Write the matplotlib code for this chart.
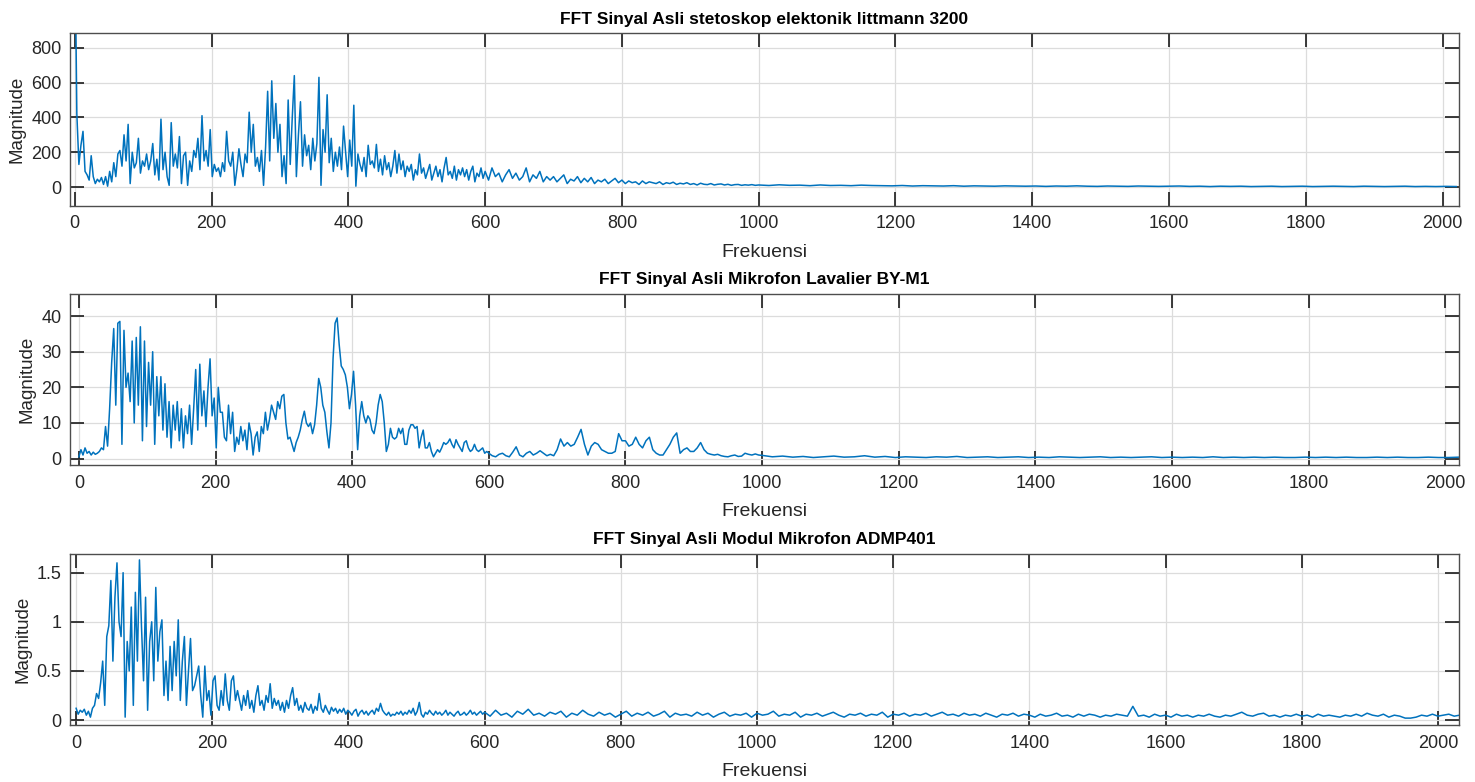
import numpy as np
import matplotlib
matplotlib.use("Agg")
import matplotlib.pyplot as plt

plt.rcParams['font.family'] = ['Liberation Sans', 'DejaVu Sans']

# ---- data (magnitudes) ----
titles = ['FFT Sinyal Asli stetoskop elektonik littmann 3200',
          'FFT Sinyal Asli Mikrofon Lavalier BY-M1',
          'FFT Sinyal Asli Modul Mikrofon ADMP401']

# stetoskop: 0-597 Hz every 3 Hz, 600-995 every 5 Hz, 1000+ every 15 Hz
mag1_lo = [1500, 420, 130, 240, 320, 90, 70, 40, 180, 60,
           20, 45, 30, 55, 15, 60, 5, 90, 30, 140,
           60, 190, 210, 120, 300, 150, 360, 20, 200, 110,
           140, 280, 80, 150, 120, 190, 100, 150, 250, 70,
           160, 40, 390, 100, 200, 60, 10, 370, 120, 190,
           110, 290, 20, 180, 200, 10, 150, 90, 210, 170,
           280, 100, 410, 150, 210, 120, 330, 60, 130, 90,
           110, 60, 140, 90, 320, 150, 120, 200, 10, 100,
           220, 130, 60, 190, 140, 430, 200, 360, 120, 170,
           90, 210, 10, 230, 550, 150, 610, 280, 480, 200,
           360, 60, 180, 20, 500, 130, 400, 640, 60, 300,
           490, 120, 300, 180, 240, 100, 280, 150, 250, 630,
           10, 330, 200, 530, 140, 280, 90, 200, 120, 230,
           100, 350, 200, 60, 270, 120, 470, 5, 190, 130,
           90, 170, 60, 240, 130, 150, 110, 245, 90, 160,
           70, 180, 100, 140, 60, 120, 210, 80, 190, 100,
           150, 60, 120, 90, 130, 40, 100, 70, 190, 80,
           110, 50, 90, 130, 40, 80, 120, 60, 100, 30,
           110, 170, 70, 90, 50, 120, 40, 100, 70, 110,
           60, 100, 40, 90, 120, 30, 80, 60, 110, 50]
mag1_mid = [90, 40, 110, 60, 80, 30, 70, 100, 50, 80,
            40, 60, 110, 30, 70, 50, 90, 30, 60, 40,
            60, 30, 50, 70, 20, 45, 35, 60, 25, 50,
            30, 55, 20, 40, 30, 45, 20, 35, 50, 25,
            40, 20, 35, 25, 30, 15, 35, 20, 30, 25,
            20, 30, 15, 25, 20, 28, 15, 22, 18, 25,
            15, 20, 12, 22, 16, 14, 20, 12, 16, 18,
            12, 16, 10, 14, 15, 10, 13, 11, 14, 10]
mag1_hi = [12, 9, 13, 10, 11, 8, 12, 9, 10, 8, 11, 9, 8, 7,
           9, 6, 8, 7, 6, 8, 5, 7, 6, 5, 7, 6, 5, 6, 4, 6,
           5, 7, 5, 4, 6, 5, 4, 6, 5, 4, 5, 6, 4, 5, 3, 5,
           4, 5, 3, 4, 5, 3, 4, 5, 3, 4, 5, 4, 3, 5, 4, 3,
           4, 5, 3, 4, 3, 4, 3]

# lavalier
mag2_lo = [0.5, 2.5, 1.0, 3.0, 1.5, 2.0, 1.0, 1.8, 1.2, 1.5,
           2.0, 3.0, 2.5, 9.0, 3.5, 14.0, 27.0, 36.5, 15.0, 38.0,
           38.5, 4.0, 36.0, 20.0, 24.0, 16.0, 33.0, 10.0, 34.0, 15.0,
           37.0, 5.0, 33.0, 9.0, 27.0, 15.0, 30.0, 4.0, 23.0, 12.0,
           23.0, 8.0, 21.0, 6.0, 16.0, 3.0, 15.0, 8.0, 16.0, 5.0,
           14.0, 3.0, 12.0, 7.0, 15.0, 4.0, 14.0, 25.0, 8.0, 26.5,
           12.0, 19.0, 9.0, 20.0, 28.0, 12.0, 17.0, 3.0, 20.0, 13.0,
           13.0, 6.0, 5.0, 15.0, 7.0, 13.0, 2.0, 6.0, 4.0, 9.0,
           5.0, 8.0, 2.5, 10.0, 7.0, 1.0, 6.0, 7.5, 2.0, 9.0,
           7.0, 13.0, 8.0, 11.0, 15.0, 13.0, 11.0, 16.0, 14.0, 17.5,
           18.0, 10.0, 5.5, 6.0, 4.0, 2.0, 4.5, 6.0, 8.0, 11.0,
           13.3, 10.0, 9.0, 10.0, 7.0, 9.5, 15.0, 22.5, 20.0, 15.0,
           13.0, 7.5, 3.0, 10.0, 28.0, 38.0, 39.5, 32.0, 26.0, 25.0,
           23.5, 20.0, 14.0, 18.0, 24.5, 15.0, 2.5, 12.0, 16.0, 12.0,
           10.0, 12.0, 11.0, 8.0, 7.0, 10.0, 15.0, 18.0, 16.0, 10.0,
           2.0, 4.0, 8.5, 6.0, 5.5, 6.0, 8.5, 7.0, 8.5, 4.0,
           4.0, 8.0, 9.5, 9.5, 8.5, 9.0, 3.0, 6.0, 8.0, 3.0,
           3.0, 4.5, 2.0, 0.5, 1.5, 2.5, 1.8, 3.0, 4.5, 4.0,
           4.5, 5.5, 4.0, 3.0, 5.3, 4.0, 3.0, 2.0, 4.5, 5.0,
           3.0, 2.0, 2.5, 4.0, 2.5, 2.0, 2.5, 3.0, 1.5, 2.0]
mag2_mid = [1.5, 0.8, 0.5, 1.2, 1.5, 0.8, 0.5, 1.8, 3.3, 1.0,
            0.5, 1.5, 2.0, 1.0, 1.5, 2.2, 1.5, 0.8, 1.2, 0.8,
            2.5, 5.5, 3.5, 4.5, 3.5, 4.0, 6.0, 8.2, 4.0, 1.0,
            3.5, 4.5, 4.0, 2.5, 2.0, 1.5, 1.5, 2.0, 7.0, 5.0,
            5.0, 3.5, 4.0, 6.0, 4.0, 3.0, 5.0, 6.0, 2.5, 1.5,
            1.0, 1.0, 2.5, 4.0, 6.0, 7.2, 1.5, 2.5, 3.0, 2.0,
            2.0, 3.0, 4.5, 2.5, 1.5, 1.2, 1.0, 1.2, 0.8, 0.6,
            0.5, 0.8, 1.0, 0.6, 0.7, 1.5, 1.2, 1.0, 1.3, 1.0]
mag2_hi = [0.9, 0.5, 0.7, 0.4, 0.6, 0.3, 0.5, 0.7, 0.4, 0.5, 0.8, 0.4,
           0.6, 0.3, 0.5, 0.4, 0.3, 0.5, 0.4, 0.6, 0.3, 0.4, 0.5, 0.3,
           0.4, 0.5, 0.3, 0.4, 0.3, 0.5, 0.4, 0.3, 0.4, 0.5, 0.3, 0.4,
           0.3, 0.4, 0.5, 0.3, 0.4, 0.3, 0.4, 0.3, 0.5, 0.3, 0.4, 0.3,
           0.4, 0.3, 0.4, 0.3, 0.3, 0.4, 0.3, 0.4, 0.3, 0.4, 0.3, 0.3,
           0.4, 0.3, 0.4, 0.3, 0.3, 0.4, 0.3, 0.3, 0.4]

# ADMP401: 0-597 Hz every 3 Hz, 600+ every 8 Hz
mag3_lo = [0.12, 0.06, 0.10, 0.08, 0.11, 0.05, 0.09, 0.03, 0.12, 0.15,
           0.27, 0.22, 0.38, 0.60, 0.15, 0.85, 0.96, 1.42, 0.60, 1.25,
           1.60, 1.00, 0.85, 1.50, 0.03, 0.80, 0.50, 1.15, 0.15, 1.30,
           0.60, 1.63, 0.95, 0.40, 1.25, 0.10, 0.80, 1.00, 0.40, 1.35,
           0.60, 0.90, 1.02, 0.25, 0.60, 0.20, 0.75, 0.30, 0.80, 0.45,
           1.02, 0.20, 0.60, 0.85, 0.15, 0.50, 0.83, 0.30, 0.35, 0.45,
           0.55, 0.25, 0.03, 0.55, 0.20, 0.30, 0.05, 0.40, 0.45, 0.15,
           0.10, 0.30, 0.15, 0.47, 0.20, 0.10, 0.40, 0.45, 0.20, 0.30,
           0.20, 0.10, 0.25, 0.15, 0.30, 0.12, 0.20, 0.08, 0.25, 0.35,
           0.15, 0.20, 0.10, 0.25, 0.18, 0.37, 0.12, 0.22, 0.15, 0.20,
           0.10, 0.18, 0.08, 0.20, 0.12, 0.25, 0.33, 0.15, 0.22, 0.10,
           0.15, 0.08, 0.18, 0.12, 0.10, 0.16, 0.07, 0.14, 0.10, 0.27,
           0.12, 0.08, 0.15, 0.10, 0.06, 0.13, 0.09, 0.12, 0.07, 0.11,
           0.08, 0.12, 0.06, 0.10, 0.08, 0.05, 0.09, 0.11, 0.04, 0.08,
           0.10, 0.06, 0.09, 0.05, 0.08, 0.10, 0.06, 0.12, 0.09, 0.17,
           0.10, 0.07, 0.05, 0.08, 0.04, 0.06, 0.05, 0.08, 0.06, 0.09,
           0.05, 0.08, 0.06, 0.10, 0.07, 0.12, 0.05, 0.09, 0.18, 0.06,
           0.03, 0.08, 0.06, 0.10, 0.07, 0.05, 0.09, 0.06, 0.08, 0.05,
           0.07, 0.10, 0.05, 0.08, 0.06, 0.04, 0.07, 0.09, 0.05, 0.06,
           0.08, 0.05, 0.07, 0.10, 0.06, 0.08, 0.05, 0.07, 0.09, 0.06]
mag3_hi = [0.08, 0.04, 0.10, 0.05, 0.07, 0.03, 0.09, 0.06, 0.11, 0.05,
           0.07, 0.04, 0.08, 0.06, 0.09, 0.03, 0.07, 0.05, 0.10, 0.06,
           0.04, 0.08, 0.05, 0.07, 0.03, 0.06, 0.09, 0.04, 0.07, 0.05,
           0.08, 0.04, 0.06, 0.09, 0.03, 0.07, 0.05, 0.06, 0.04, 0.08,
           0.05, 0.07, 0.03, 0.06, 0.08, 0.04, 0.06, 0.05, 0.07, 0.03,
           0.07, 0.05, 0.06, 0.09, 0.04, 0.06, 0.05, 0.08, 0.03, 0.06,
           0.05, 0.07, 0.04, 0.06, 0.08, 0.05, 0.03, 0.06, 0.05, 0.07,
           0.04, 0.06, 0.05, 0.08, 0.03, 0.06, 0.05, 0.07, 0.04, 0.06,
           0.05, 0.07, 0.04, 0.06, 0.08, 0.05, 0.06, 0.04, 0.07, 0.05,
           0.06, 0.04, 0.07, 0.05, 0.03, 0.06, 0.05, 0.07, 0.04, 0.06,
           0.05, 0.03, 0.06, 0.04, 0.05, 0.07, 0.04, 0.05, 0.03, 0.06,
           0.04, 0.06, 0.05, 0.03, 0.05, 0.04, 0.06, 0.05, 0.04, 0.14,
           0.04, 0.05, 0.03, 0.06, 0.04, 0.05, 0.03, 0.06, 0.04, 0.05,
           0.03, 0.05, 0.04, 0.06, 0.04, 0.03, 0.05, 0.04, 0.06, 0.08,
           0.05, 0.04, 0.06, 0.07, 0.04, 0.05, 0.03, 0.05, 0.04, 0.06,
           0.04, 0.05, 0.03, 0.06, 0.04, 0.05, 0.04, 0.03, 0.05, 0.04,
           0.06, 0.04, 0.07, 0.05, 0.04, 0.06, 0.03, 0.05, 0.04, 0.02,
           0.02, 0.03, 0.05, 0.04, 0.06, 0.04, 0.05, 0.06, 0.04, 0.05]

# frequency bins for each piece
f1 = np.concatenate([np.arange(len(mag1_lo)) * 3, 600 + np.arange(len(mag1_mid)) * 5,
                     1000 + np.arange(len(mag1_hi)) * 15])
f2 = np.concatenate([np.arange(len(mag2_lo)) * 3, 600 + np.arange(len(mag2_mid)) * 5,
                     1000 + np.arange(len(mag2_hi)) * 15])
f3 = np.concatenate([np.arange(len(mag3_lo)) * 3, 600 + np.arange(len(mag3_hi)) * 8])
m1 = np.array(mag1_lo + mag1_mid + mag1_hi, dtype=float)
m2 = np.array(mag2_lo + mag2_mid + mag2_hi)
m3 = np.array(mag3_lo + mag3_hi)

xlims = [(-7, 2024), (-13, 2020), (-9, 2031)]
ylims = [(-107, 883), (-1.8, 46.2), (-0.05, 1.69)]
yticks = [[0, 200, 400, 600, 800], [0, 10, 20, 30, 40], [0, 0.5, 1, 1.5]]
ytlabels = [['0', '200', '400', '600', '800'], ['0', '10', '20', '30', '40'],
            ['0', '0.5', '1', '1.5']]
xticks = np.arange(0, 2001, 200)

W, H = 1475, 782
boxes = [(70, 33.3, 1459, 205.7), (70, 294, 1459, 465), (70, 554, 1459, 725)]
dark = '#262626'

fig = plt.figure(figsize=(W / 100, H / 100), dpi=100)
for i, (x, y) in enumerate([(f1, m1), (f2, m2), (f3, m3)]):
    l, t, r, b = boxes[i]
    ax = fig.add_axes([l / W, 1 - b / H, (r - l) / W, (b - t) / H])
    ax.plot(x, y, color='#0072BD', linewidth=1.1)
    ax.set_xlim(*xlims[i])
    ax.set_ylim(*ylims[i])
    ax.set_xticks(xticks)
    ax.set_xticklabels([str(v) for v in xticks])
    ax.set_yticks(yticks[i])
    ax.set_yticklabels(ytlabels[i])
    ax.grid(True, color='#dcdcdc', linewidth=0.9)
    ax.set_axisbelow(True)
    ax.tick_params(direction='in', length=10, width=1.2, color='#1a1a1a', labelcolor=dark,
                   labelsize=13, top=True, right=True)
    ax.tick_params(axis='x', pad=7)
    ax.tick_params(axis='y', pad=6)
    for s in ax.spines.values():
        s.set_color('#4d4d4d')
        s.set_linewidth(1.0)
    ax.set_title(titles[i], fontsize=12.5, fontweight='bold', color='black', pad=7)
    ax.set_xlabel('Frekuensi', fontsize=14, color=dark, labelpad=8)
    ax.set_ylabel('Magnitude', fontsize=13.5, color=dark, labelpad=4)

fig.savefig('out.png', dpi=100)
